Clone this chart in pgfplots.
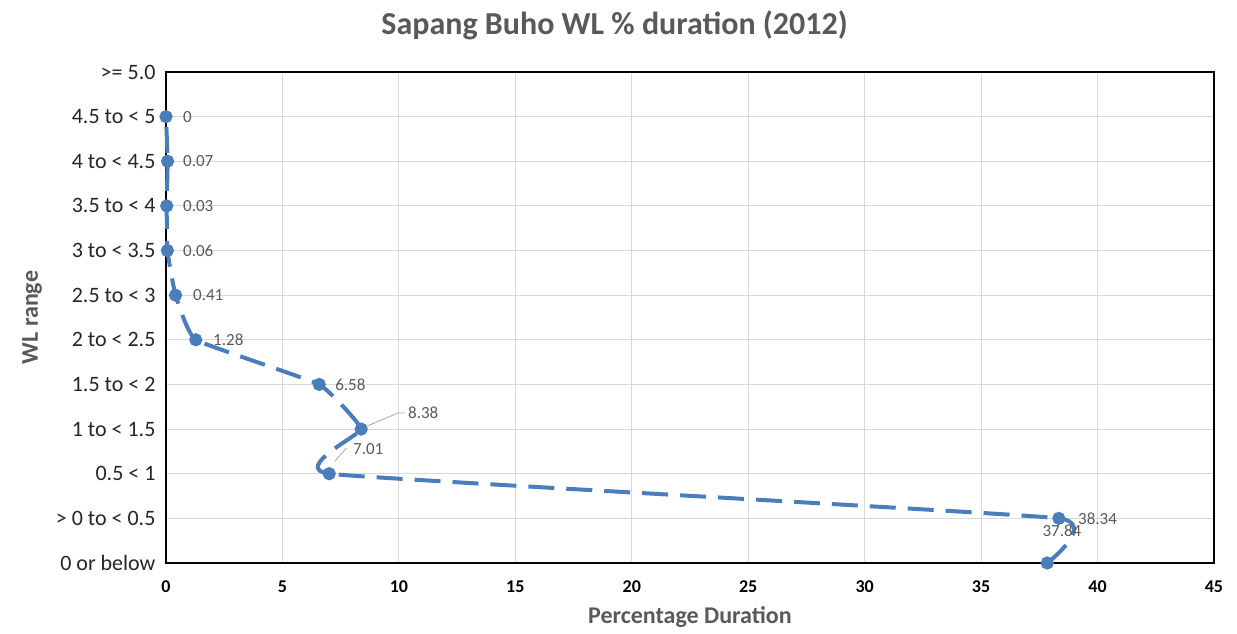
\documentclass[border=0pt]{standalone}
\usepackage{fontspec}
\setmainfont{Carlito}
\usepackage{pgfplots}
\pgfplotsset{compat=1.18}
\definecolor{serie}{HTML}{4A7EBB}
\definecolor{txtgray}{HTML}{595959}
\begin{document}
\begin{tikzpicture}
% frame of the whole picture, in reference pixels (axis origin at 166,563)
\useasboundingbox (-166pt,-71pt) rectangle (1071pt,563pt);
\begin{axis}[
  scale only axis,
  width=1048pt, height=491pt,
  xmin=0, xmax=45, ymin=0, ymax=11,
  xtick distance=5,
  ytick={0,...,11},
  yticklabels={0 or below,> 0 to < 0.5,0.5 < 1,1 to < 1.5,1.5 to < 2,2 to < 2.5,2.5 to < 3,3 to < 3.5,3.5 to < 4,4 to < 4.5,4.5 to < 5,>= 5.0},
  /pgf/number format/assume math mode=true,
  xticklabel style={font=\fontsize{18}{20}\selectfont\bfseries, yshift=-14pt},
  yticklabel style={font=\fontsize{22}{24}\selectfont, text=black!85, xshift=-7pt},
  tick style={draw=none},
  grid=major,
  major grid style={draw=gray!30, line width=1pt},
  axis line style={black, line width=1.2pt},
  xlabel={Percentage Duration},
  ylabel={WL range},
  xlabel style={font=\fontsize{24}{26}\selectfont\bfseries, text=txtgray, yshift=-7pt},
  ylabel style={font=\fontsize{24}{26}\selectfont\bfseries, text=txtgray, yshift=7pt},
  clip=false,
]
\addplot[serie, line width=4pt, smooth, tension=0.2, dash pattern=on 26pt off 12pt,
  mark=*, mark size=4.5pt, mark options={solid, fill=serie, draw=serie}]
  coordinates {
  (37.84,0) (38.34,1) (7.01,2) (8.38,3) (6.58,4) (1.28,5)
  (0.41,6) (0.06,7) (0.03,8) (0.07,9) (0,10)
};
\begin{scope}[every node/.style={font=\fontsize{17}{19}\selectfont, text=txtgray, inner sep=0pt}]
\node[anchor=west] at (axis cs:0.73,10) {0};
\node[anchor=west] at (axis cs:0.73,9) {0.07};
\node[anchor=west] at (axis cs:0.73,8) {0.03};
\node[anchor=west] at (axis cs:0.73,7) {0.06};
\node[anchor=west] at (axis cs:1.16,6) {0.41};
\node[anchor=west] at (axis cs:2.02,5) {1.28};
\node[anchor=west] at (axis cs:7.26,4) {6.58};
\node[anchor=west] at (axis cs:10.39,3.36) {8.38};
\draw[gray!70, line width=0.8pt] (axis cs:8.42,3.02) -- (axis cs:9.96,3.36) -- (axis cs:10.26,3.36);
\node[anchor=west] at (axis cs:8.03,2.55) {7.01};
\draw[gray!70, line width=0.8pt] (axis cs:7.25,2.28) -- (axis cs:7.75,2.58);
\node[anchor=west] at (axis cs:39.16,0.99) {38.34};
\node[anchor=center] at (axis cs:38.47,0.72) {37.84};
\end{scope}
\node[font=\fontsize{32}{34}\selectfont\bfseries, text=txtgray] at (rel axis cs:0.428,1.096) {Sapang Buho WL \% duration (2012)};
\end{axis}
\end{tikzpicture}
\end{document}
